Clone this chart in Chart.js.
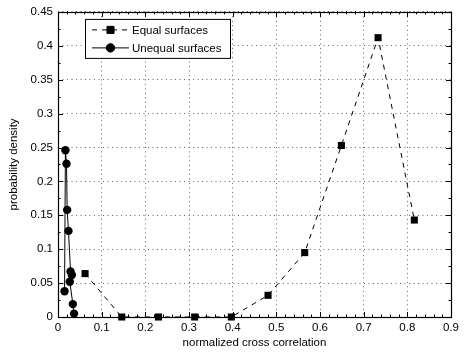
<!DOCTYPE html>
<html>
<head>
<meta charset="utf-8">
<script src="https://cdn.jsdelivr.net/npm/chart.js@4/dist/chart.umd.min.js"></script>
<style>
  html, body { margin: 0; padding: 0; background: #fff; }
  #wrap { width: 466px; height: 353px; }
</style>
</head>
<body>
<div id="wrap"><canvas id="chart" width="466" height="353"></canvas></div>
<script>
// equal surfaces (dashed, squares)
const equalX = [0.062, 0.146, 0.230, 0.313, 0.397, 0.481, 0.565, 0.649, 0.733, 0.816];
const equalY = [0.064, 0, 0, 0, 0, 0.032, 0.095, 0.253, 0.412, 0.143];
// unequal surfaces (solid, circles) in drawing order
const unequalX = [0.015, 0.017, 0.0195, 0.021, 0.024, 0.0287, 0.0317, 0.027, 0.034, 0.0367];
const unequalY = [0.038, 0.246, 0.226, 0.158, 0.127, 0.067, 0.062, 0.052, 0.019, 0.005];

const xTicks = [0, 0.1, 0.2, 0.3, 0.4, 0.5, 0.6, 0.7, 0.8, 0.9];
const xTickLabels = ['0', '0.1', '0.2', '0.3', '0.4', '0.5', '0.6', '0.7', '0.8', '0.9'];
const yTicks = [0, 0.05, 0.1, 0.15, 0.2, 0.25, 0.3, 0.35, 0.4, 0.45];
const yTickLabels = ['0', '0.05', '0.1', '0.15', '0.2', '0.25', '0.3', '0.35', '0.4', '0.45'];
const xMinorStep = 0.02;
const yMinorStep = 0.025;

const FONT = "'Liberation Sans', Arial, Helvetica, sans-serif";
const FSIZE = 11.5;

const toPts = (xs, ys) => xs.map((x, i) => ({ x: x, y: ys[i] }));

// box + inward ticks on all four sides
const frame = {
  id: 'frame',
  beforeDatasetsDraw(chart) {
    const { ctx, chartArea: a, scales } = chart;
    const xs = scales.x, ys = scales.y;
    ctx.save();
    ctx.strokeStyle = '#000';
    ctx.lineWidth = 1;
    ctx.beginPath();
    const tick = (v, len, horiz) => {
      if (horiz) {
        const p = Math.round(xs.getPixelForValue(v)) + 0.5;
        ctx.moveTo(p, a.bottom); ctx.lineTo(p, a.bottom - len);
        ctx.moveTo(p, a.top); ctx.lineTo(p, a.top + len);
      } else {
        const p = Math.round(ys.getPixelForValue(v)) + 0.5;
        ctx.moveTo(a.left, p); ctx.lineTo(a.left + len, p);
        ctx.moveTo(a.right, p); ctx.lineTo(a.right - len, p);
      }
    };
    for (let v = xs.min; v <= xs.max + 1e-9; v += xMinorStep) tick(v, 2.5, true);
    for (let v = ys.min; v <= ys.max + 1e-9; v += yMinorStep) tick(v, 2.5, false);
    xTicks.forEach(v => tick(v, 5, true));
    yTicks.forEach(v => tick(v, 5, false));
    ctx.stroke();
    ctx.lineWidth = 1.2;
    ctx.strokeRect(Math.round(a.left) + 0.5, Math.round(a.top) + 0.5,
      Math.round(a.right - a.left), Math.round(a.bottom - a.top));
    ctx.restore();
  }
};

// matlab style legend with line + marker samples
const matLegend = {
  id: 'matLegend',
  afterDraw(chart) {
    const { ctx, chartArea: a } = chart;
    const bx = a.left + 27, by = a.top + 7, bw = 145, bh = 39;
    ctx.save();
    ctx.fillStyle = '#fff';
    ctx.fillRect(bx, by, bw, bh);
    ctx.strokeStyle = '#000';
    ctx.lineWidth = 1;
    ctx.strokeRect(bx + 0.5, by + 0.5, bw, bh);
    ctx.font = FSIZE + 'px ' + FONT;
    ctx.textBaseline = 'middle';
    chart.data.datasets.forEach((ds, i) => {
      const cy = by + 11 + i * 18;
      const x0 = bx + 7, x1 = bx + 44, mx = (x0 + x1) / 2;
      ctx.strokeStyle = '#000';
      ctx.lineWidth = 1;
      ctx.setLineDash(ds.borderDash || []);
      ctx.beginPath();
      ctx.moveTo(x0, cy); ctx.lineTo(x1, cy);
      ctx.stroke();
      ctx.setLineDash([]);
      Chart.helpers.drawPoint(ctx, {
        pointStyle: ds.pointStyle, radius: ds.pointRadius, borderWidth: 1
      }, mx, cy);
      ctx.fillStyle = '#000';
      ctx.fill();
      ctx.fillText(ds.label, x1 + 3, cy + 0.5);
    });
    ctx.restore();
  }
};

new Chart(document.getElementById('chart'), {
  type: 'scatter',
  data: {
    datasets: [
      {
        label: 'Equal surfaces',
        data: toPts(equalX, equalY),
        showLine: true,
        borderColor: '#000',
        backgroundColor: '#000',
        borderWidth: 1,
        borderDash: [5, 5],
        pointStyle: 'rect',
        pointRadius: 5,
        pointBorderWidth: 0
      },
      {
        label: 'Unequal surfaces',
        data: toPts(unequalX, unequalY),
        showLine: true,
        borderColor: '#000',
        backgroundColor: '#000',
        borderWidth: 1,
        pointStyle: 'circle',
        pointRadius: 4.2,
        pointBorderWidth: 0
      }
    ]
  },
  options: {
    responsive: false,
    animation: false,
    clip: false,
    layout: { padding: { top: 7, right: 15, left: 0, bottom: 0 } },
    plugins: {
      legend: { display: false },
      tooltip: { enabled: false }
    },
    scales: {
      x: {
        type: 'linear',
        min: 0, max: 0.9,
        afterBuildTicks: s => { s.ticks = xTicks.map(v => ({ value: v })); },
        afterFit: s => { s.height = 36; },
        ticks: {
          padding: 4,
          color: '#000',
          font: { family: FONT, size: FSIZE },
          maxRotation: 0,
          callback: (v, i) => xTickLabels[i]
        },
        grid: { color: '#666', lineWidth: 1, drawTicks: false },
        border: { display: false, dash: [1, 3.5] },
        title: {
          display: true,
          text: 'normalized cross correlation',
          color: '#000',
          font: { family: FONT, size: FSIZE },
          padding: { top: 0, bottom: 3 }
        }
      },
      y: {
        type: 'linear',
        min: 0, max: 0.45,
        afterBuildTicks: s => { s.ticks = yTicks.map(v => ({ value: v })); },
        afterFit: s => { s.width = 58; },
        ticks: {
          padding: 5,
          color: '#000',
          font: { family: FONT, size: FSIZE },
          callback: (v, i) => yTickLabels[i]
        },
        grid: { color: '#666', lineWidth: 1, drawTicks: false },
        border: { display: false, dash: [1, 3.5] },
        title: {
          display: true,
          text: 'probability density',
          color: '#000',
          font: { family: FONT, size: FSIZE },
          padding: { top: 7, bottom: 0 }
        }
      }
    }
  },
  plugins: [frame, matLegend]
});
</script>
</body>
</html>
